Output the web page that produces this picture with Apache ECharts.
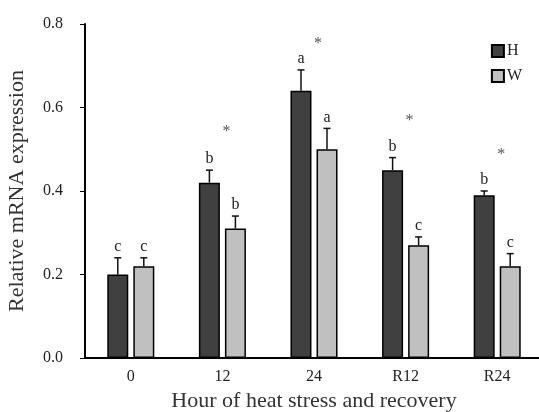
<!DOCTYPE html>
<html>
<head>
<meta charset="utf-8">
<script src="https://cdn.jsdelivr.net/npm/echarts@6/dist/echarts.min.js"></script>
<style>
  html, body { margin: 0; padding: 0; background: #fff; }
  #chart { width: 539px; height: 412px; }
</style>
</head>
<body>
<div id="chart"></div>
<script>
// data
var categories = ['0', '12', '24', 'R12', 'R24']
var hValues = [0.20, 0.42, 0.64, 0.45, 0.39]
var hErrors = [0.04, 0.03, 0.05, 0.03, 0.01]
var hLetters = ['c', 'b', 'a', 'b', 'b']
var wValues = [0.22, 0.31, 0.50, 0.27, 0.22]
var wErrors = [0.02, 0.03, 0.05, 0.02, 0.03]
var wLetters = ['c', 'b', 'a', 'c', 'c']
// asterisk positions (value on the y scale)
var starPos = [null, 0.548, 0.76, 0.576, 0.495]

var font = 'Liberation Serif'
var barW = 21
var half = 13 // offset of each bar centre from the category centre

const chart = echarts.init(document.getElementById('chart'))

function errItem(offset, letters) {
  return function (params, api) {
    var i = api.value(0)
    var top = api.coord([i, api.value(1) + api.value(2)])
    var base = api.coord([i, api.value(1)])
    var x = top[0] + offset
    var style = { stroke: '#111', lineWidth: 1.5 }
    return {
      type: 'group',
      children: [
        { type: 'line', shape: { x1: x, y1: base[1], x2: x, y2: top[1] }, style: style },
        { type: 'line', shape: { x1: x - 3.5, y1: top[1], x2: x + 3.5, y2: top[1] }, style: style },
        {
          type: 'text',
          style: {
            text: letters[params.dataIndex], x: x, y: top[1] - 3,
            align: 'center', verticalAlign: 'bottom',
            font: '16px "' + font + '"', fill: '#222'
          }
        }
      ]
    }
  }
}

var hErrData = categories.map((c, i) => [i, hValues[i], hErrors[i]])
var wErrData = categories.map((c, i) => [i, wValues[i], wErrors[i]])
var starData = []
starPos.forEach((v, i) => { if (v != null) starData.push([i, v]) })

var option = {
  animation: false,
  grid: { left: 85, right: -4, top: 24, bottom: 54, outerBoundsMode: 'none', containLabel: false },
  legend: {
    orient: 'vertical',
    right: 12,
    top: 38,
    icon: 'rect',
    itemWidth: 12,
    itemHeight: 12,
    itemGap: 9,
    data: ['H', 'W'],
    textStyle: { fontFamily: font, fontSize: 16, color: '#222', padding: [0, 0, 8, -2] },
  },
  xAxis: {
    type: 'category',
    data: categories,
    name: 'Hour of heat stress and recovery',
    nameLocation: 'middle',
    nameGap: 31,
    nameTextStyle: { fontFamily: font, fontSize: 22, color: '#333' },
    axisLine: { lineStyle: { color: '#000', width: 2 } },
    axisTick: { alignWithLabel: true, length: 4, lineStyle: { color: '#000' } },
    axisLabel: { fontFamily: font, fontSize: 16, color: '#222', margin: 11 },
  },
  yAxis: {
    type: 'value',
    min: 0,
    max: 0.8,
    interval: 0.2,
    name: 'Relative mRNA expression',
    nameLocation: 'middle',
    nameGap: 57,
    nameTextStyle: { fontFamily: font, fontSize: 22, color: '#333' },
    axisLine: { show: true, lineStyle: { color: '#000', width: 2 } },
    axisTick: { show: true, length: 5, lineStyle: { color: '#000' } },
    splitLine: { show: false },
    axisLabel: {
      fontFamily: font, fontSize: 16, color: '#222', margin: 22,
      formatter: (v) => v.toFixed(1),
    },
  },
  series: [
    {
      name: 'H',
      type: 'bar',
      data: hValues,
      barWidth: barW,
      barGap: '24%',
      itemStyle: { color: '#404040', borderColor: '#000', borderWidth: 1.5 },
    },
    {
      name: 'W',
      type: 'bar',
      data: wValues,
      barWidth: barW,
      itemStyle: { color: '#c0c0c0', borderColor: '#000', borderWidth: 1.5 },
    },
    {
      type: 'custom',
      renderItem: errItem(-half, hLetters),
      data: hErrData,
      encode: { x: 0, y: 1 },
      z: 5,
    },
    {
      type: 'custom',
      renderItem: errItem(half, wLetters),
      data: wErrData,
      encode: { x: 0, y: 1 },
      z: 5,
    },
    {
      type: 'custom',
      data: starData,
      encode: { x: 0, y: 1 },
      renderItem: (params, api) => {
        var p = api.coord([api.value(0), api.value(1)])
        return {
          type: 'text',
          style: {
            text: '*', x: p[0] + 4, y: p[1] + 3,
            align: 'center', verticalAlign: 'middle',
            font: '16px "' + font + '"', fill: '#555'
          }
        }
      },
    },
  ],
}

chart.setOption(option)
</script>
</body>
</html>
